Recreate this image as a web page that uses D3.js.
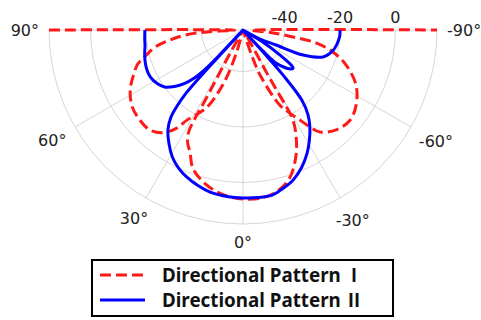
<!DOCTYPE html>
<html>
<head>
<meta charset="utf-8">
<script src="https://cdn.jsdelivr.net/npm/d3@7"></script>
<style>
  body { margin: 0; background: #fff; }
  svg { display: block; }
</style>
</head>
<body>
<div class="polar"></div>
<script>
// angles in degrees (0 = down, positive to the left), values in dB
var angleTicks = [90, 60, 30, 0, -30, -60, -90];
var radialTicks = [-40, -20, 0];
var rMin = -55, rMax = 15;

var seriesNames = ["Directional Pattern \u2160", "Directional Pattern \u2161"];

// Pattern I (red, dashed) - traced in drawing order
var angI = [90, 89, 87, 85, 82, 79, 75, 72, 68, 64, 60, 55, 49, 43, 38, 34, 31.9, 28, 25, 22, 19, 16, 15,
            29.5, 29, 28.5, 28.3, 28.5, 28, 26, 23.5, 20, 15, 9, 3.5, 0, -6, -11.5, -17.5, -23, -26.8, -29, -29.5, -29.2, -29, -30, -31,
            -17, -19, -21, -26, -29, -32.3, -34.6, -37, -43, -50, -56.4, -64, -71.2, -76.3, -80, -82, -85, -88, -90];
var dbI  = [15, -52, -42, -34, -28, -22.7, -18.5, -15, -12.5, -10, -8, -6.3, -5.6, -5.7, -8, -12.3, -16.7, -21, -24.3, -30, -37, -47, -55,
            -55, -45, -34, -26, -19, -13, -9.5, -7, -2, 1.5, 4.2, 5.6, 6, 6, 4.7, 1, -6, -12.6, -17.8, -23, -30, -37, -48, -55,
            -55, -45, -37, -25, -21, -16.6, -12.5, -8.9, -5.7, -4.5, -6, -9.6, -15.7, -21.6, -28.3, -36.8, -45, -52, 15];

// Pattern II (blue, solid)
var angII = [90, 85, 81, 77, 73, 68, 63, 58, 54, 50.5, 47.5, 45.5, 44, 43.2, 43,
             42.5, 42.5, 42, 41, 39.5, 37, 33, 29, 25, 21, 16, 11.5, 5, 0, -5, -10, -14, -18.4, -23, -27.5, -31, -34.6, -37.5, -40, -41.6, -42.3, -43,
             -43.5, -45, -48.5, -51, -52.8, -54, -56, -59, -60,
             -62, -65.6, -67.4, -71.4, -75, -78.9, -84, -87, -90];
var dbII  = [-19.6, -19.4, -19.2, -18.6, -18, -17.5, -17.5, -18.5, -20, -23, -26.5, -30, -35, -42, -55,
             -45, -33, -24, -19, -14, -10, -6, -2.5, 0, 1.8, 3.5, 4.7, 5.4, 5.6, 5.7, 5.5, 4, 2.1, -1, -4.9, -8.5, -12.5, -16.5, -22, -33, -44, -55,
             -45, -38, -34.3, -32.6, -32.3, -33.5, -39, -47, -55,
             -48, -41.9, -31.5, -24.5, -22.5, -21.2, -20.3, -20, -20];

var width = 481, height = 320;
var cx = 243, cy = 30, R = 194;

var svg = d3.select(".polar").append("svg")
  .attr("width", width)
  .attr("height", height);

var r = d3.scaleLinear().domain([rMin, rMax]).range([0, R]);

function px(a, v) { return cx - r(v) * Math.sin(a * Math.PI / 180); }
function py(a, v) { return cy + r(v) * Math.cos(a * Math.PI / 180); }

var grid = svg.append("g").attr("class", "grid")
  .attr("fill", "none").attr("stroke", "#d6d6d6").attr("stroke-width", 1);

// rings + outer edge
radialTicks.concat([rMax]).forEach(function(t) {
  var p = d3.path();
  p.moveTo(cx + r(t), cy);
  p.arc(cx, cy, r(t), 0, Math.PI);
  grid.append("path").attr("d", p.toString());
});

// spokes
angleTicks.forEach(function(a) {
  grid.append("line")
    .attr("x1", cx).attr("y1", cy)
    .attr("x2", px(a, rMax)).attr("y2", py(a, rMax));
});

// radial tick labels
svg.append("g").selectAll("text")
  .data(radialTicks).enter().append("text")
  .attr("x", function(d) { return cx + r(d); })
  .attr("y", 17)
  .attr("text-anchor", "middle")
  .attr("dominant-baseline", "central")
  .attr("font-family", "'DejaVu Sans'")
  .attr("font-size", 16)
  .attr("fill", "#222")
  .text(function(d) { return d; });

// angle labels
svg.append("g").selectAll("text")
  .data(angleTicks).enter().append("text")
  .attr("text-anchor", "middle")
  .attr("dominant-baseline", "central")
  .attr("font-family", "'DejaVu Sans'")
  .attr("font-size", 16)
  .attr("fill", "#222")
  .text(function(d) { return d + "\u00b0"; })
  .each(function(d) {
    var w = this.getComputedTextLength(), h = 16;
    var a = d * Math.PI / 180;
    var rr = R + 10 + Math.abs(Math.sin(a)) * w / 2 + Math.abs(Math.cos(a)) * h / 2;
    d3.select(this)
      .attr("x", cx - rr * Math.sin(a))
      .attr("y", cy + rr * Math.cos(a));
  });

var line = d3.line()
  .x(function(d) { return px(d[0], d[1]); })
  .y(function(d) { return py(d[0], d[1]); })
  .curve(d3.curveCatmullRom.alpha(0.5));

svg.append("path")
  .datum(d3.zip(angI, dbI))
  .attr("d", line)
  .attr("fill", "none")
  .attr("stroke", "#ff1a1a")
  .attr("stroke-width", 3)
  .attr("stroke-dasharray", "11,5");

svg.append("path")
  .datum(d3.zip(angII, dbII))
  .attr("d", line)
  .attr("fill", "none")
  .attr("stroke", "#0000ff")
  .attr("stroke-width", 3);

// legend
var legend = svg.append("g").attr("class", "legend");
legend.append("rect")
  .attr("x", 92).attr("y", 260)
  .attr("width", 301).attr("height", 56)
  .attr("fill", "#fff")
  .attr("stroke", "#000")
  .attr("stroke-width", 2);

var styles = [{ color: "#ff1a1a", dash: "11,5" }, { color: "#0000ff", dash: null }];
seriesNames.forEach(function(name, i) {
  var y = 275 + i * 25;
  legend.append("line")
    .attr("x1", 100).attr("x2", 145)
    .attr("y1", y).attr("y2", y)
    .attr("stroke", styles[i].color)
    .attr("stroke-width", 3)
    .attr("stroke-dasharray", styles[i].dash);
  var t = legend.append("text")
    .attr("x", 162).attr("y", y + 6.5)
    .attr("font-family", "'Noto Sans'")
    .attr("font-weight", "bold")
    .attr("font-size", 18.8)
    .attr("fill", "#111")
    .text(name.slice(0, -1));
  var w = t.node().getComputedTextLength();
  legend.append("text")
    .attr("x", 162 + w + 4).attr("y", y + 6.5)
    .attr("font-family", "'Noto Sans CJK JP'")
    .attr("font-weight", "bold")
    .attr("font-size", 18.5)
    .attr("fill", "#111")
    .text(name.slice(-1));
});
</script>
</body>
</html>
